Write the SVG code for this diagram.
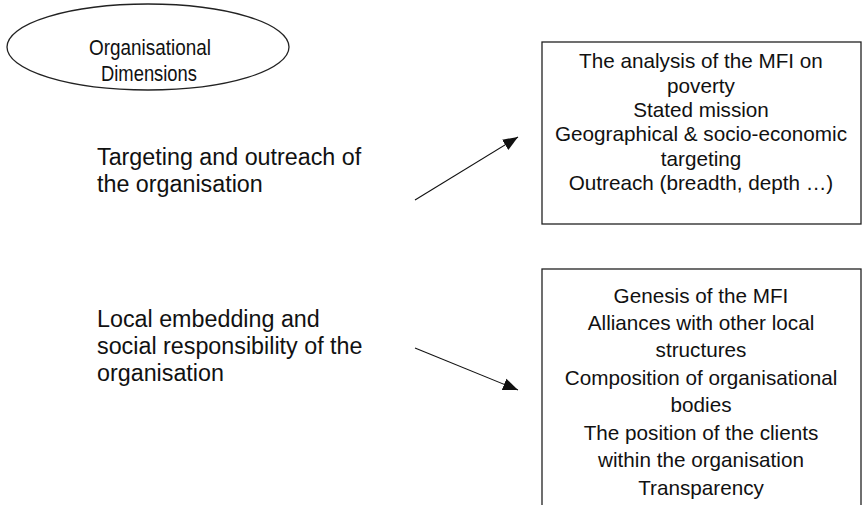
<svg xmlns="http://www.w3.org/2000/svg" width="863" height="505" viewBox="0 0 863 505">
<style>
text{font-family:"Liberation Sans",Arial,sans-serif;font-size:20.7px;fill:#111}
.c{text-anchor:middle}
.l{font-size:23.3px}
.n{font-size:22.5px}
.shape{fill:#fff;stroke:#222;stroke-width:1.3}
.conn{stroke:#111;stroke-width:1.1;fill:none}
</style>
<defs>
<marker id="ah" viewBox="0 0 10 10" refX="10" refY="5" markerWidth="15" markerHeight="15" markerUnits="userSpaceOnUse" orient="auto">
<path d="M0,1 L10,5 L0,9 Z" fill="#111"/>
</marker>
</defs>
<rect width="863" height="505" fill="#fff"/>
<g id="dimensions">
<ellipse class="shape" cx="148" cy="47" rx="141" ry="43"/>
<text class="n" x="89" y="55" textLength="122" lengthAdjust="spacingAndGlyphs">Organisational</text>
<text class="n" x="101" y="81" textLength="96" lengthAdjust="spacingAndGlyphs">Dimensions</text>
</g>
<g id="targeting">
<text class="l" x="97" y="165">Targeting and outreach of</text>
<text class="l" x="97" y="192">the organisation</text>
</g>
<g id="embedding">
<text class="l" x="97" y="327">Local embedding and</text>
<text class="l" x="97" y="354">social responsibility of the</text>
<text class="l" x="97" y="381">organisation</text>
</g>
<g id="box1">
<rect class="shape" x="542" y="42" width="319" height="182"/>
<text class="c" x="701" y="68">The analysis of the MFI on</text>
<text class="c" x="701" y="93">poverty</text>
<text class="c" x="701" y="117">Stated mission</text>
<text class="c" x="701" y="141">Geographical &amp; socio-economic</text>
<text class="c" x="701" y="166">targeting</text>
<text class="c" x="701" y="190">Outreach (breadth, depth …)</text>
</g>
<g id="box2">
<rect class="shape" x="542" y="269" width="319" height="250"/>
<text class="c" x="701" y="303">Genesis of the MFI</text>
<text class="c" x="701" y="330">Alliances with other local</text>
<text class="c" x="701" y="357">structures</text>
<text class="c" x="701" y="385">Composition of organisational</text>
<text class="c" x="701" y="412">bodies</text>
<text class="c" x="701" y="440">The position of the clients</text>
<text class="c" x="701" y="467">within the organisation</text>
<text class="c" x="701" y="495">Transparency</text>
</g>
<g id="connectors">
<line class="conn" x1="415" y1="200" x2="518" y2="137" marker-end="url(#ah)"/>
<line class="conn" x1="415" y1="348" x2="518" y2="390" marker-end="url(#ah)"/>
</g>
</svg>
